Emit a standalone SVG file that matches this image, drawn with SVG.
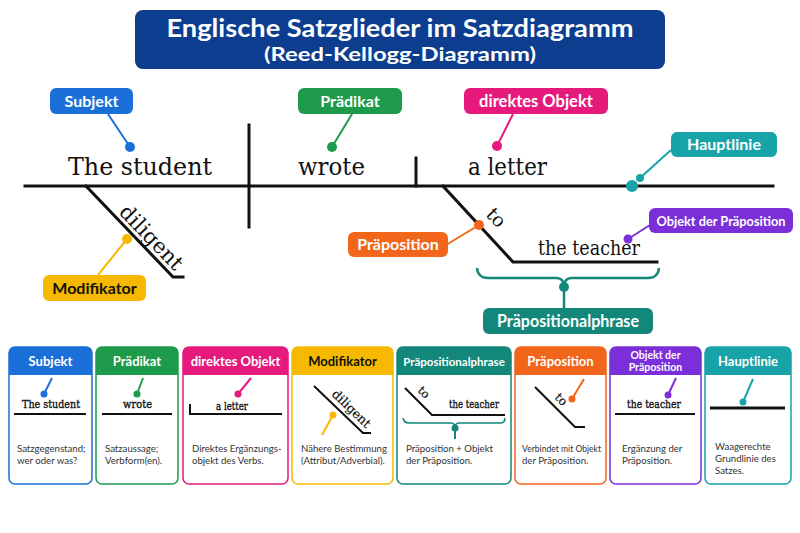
<svg xmlns="http://www.w3.org/2000/svg" width="800" height="533" viewBox="0 0 800 533">
<style>
.lbl{font-family:Lato,"Noto Sans",sans-serif;font-weight:700;fill:#fff;text-anchor:middle}
.w{font-family:"DejaVu Serif","Liberation Serif",serif;fill:#111}
.cw{font-family:"DejaVu Serif","Liberation Serif",serif;fill:#111;font-size:11.5px;stroke:#111;stroke-width:0.35}
.desc{font-family:Lato,"Noto Sans",sans-serif;font-size:9.6px;fill:#333}
.ln{stroke:#111;stroke-width:3;fill:none;stroke-linecap:square}
.cl{stroke:#111;stroke-width:2;fill:none}
.hd{font-family:Lato,"Noto Sans",sans-serif;font-weight:700;fill:#fff;text-anchor:middle;font-size:13px}
</style>
<rect width="800" height="533" fill="#fff"/>
<g id="title">
<rect x="135" y="10" width="530" height="59" rx="8" fill="#0c3d8e"/>
<text x="400" y="37" class="lbl" font-size="25" textLength="467" lengthAdjust="spacingAndGlyphs">Englische Satzglieder im Satzdiagramm</text>
<text x="400" y="61" class="lbl" font-size="18" textLength="272" lengthAdjust="spacingAndGlyphs">(Reed-Kellogg-Diagramm)</text>
</g>
<g id="connectors">
<path class="ln" d="M25 186H773"/>
<path class="ln" d="M249 125V227"/>
<path class="ln" d="M416 158V186"/>
<path class="ln" d="M86 186L173 277H183"/>
<path class="ln" d="M443 186L513 262H657"/>
<path d="M477 268Q478 278 488 278H556Q563 278 564 285Q565 278 572 278H648Q658 278 659 268" stroke="#12877a" stroke-width="2.5" fill="none"/>
<path d="M564 287V308" stroke="#12877a" stroke-width="2.5"/>
<circle cx="564" cy="287" r="5" fill="#12877a"/>
<path d="M108 114L130 147" stroke="#1b6fd8" stroke-width="2"/>
<circle cx="130" cy="147" r="5" fill="#1b6fd8"/>
<path d="M352 114L332 147" stroke="#1e9a4b" stroke-width="2"/>
<circle cx="332" cy="147" r="5" fill="#1e9a4b"/>
<path d="M513 114L497 146" stroke="#e6197c" stroke-width="2"/>
<circle cx="497" cy="146" r="5" fill="#e6197c"/>
<path d="M671 150L640 178" stroke="#17a3a8" stroke-width="2"/>
<circle cx="640" cy="178" r="4" fill="#17a3a8"/>
<circle cx="632" cy="186" r="6" fill="#17a3a8"/>
<path d="M650 225L628 239" stroke="#7b2fd8" stroke-width="2"/>
<circle cx="628" cy="239" r="4.5" fill="#7b2fd8"/>
<path d="M446 245L479 225" stroke="#f2661b" stroke-width="2"/>
<circle cx="479" cy="225" r="5" fill="#f2661b"/>
<path d="M98 275L127 239" stroke="#f6b900" stroke-width="2"/>
<circle cx="127" cy="239" r="5" fill="#f6b900"/>
</g>
<g id="words">
<text x="68" y="175" class="w" font-size="25" textLength="144" lengthAdjust="spacingAndGlyphs">The student</text>
<text x="298" y="175" class="w" font-size="25" textLength="67" lengthAdjust="spacingAndGlyphs">wrote</text>
<text x="468" y="175" class="w" font-size="25" textLength="79" lengthAdjust="spacingAndGlyphs">a letter</text>
<text x="538" y="255" class="w" font-size="20" textLength="102" lengthAdjust="spacingAndGlyphs">the teacher</text>
<text transform="translate(118 213) rotate(46)" class="w" font-size="21">diligent</text>
<text transform="translate(485 215) rotate(47)" class="w" font-size="19">to</text>
</g>
<g id="label-subjekt"><rect x="50" y="88" width="83" height="26" rx="6" fill="#1b6fd8"/><text x="91.5" y="107" class="lbl" font-size="16">Subjekt</text></g>
<g id="label-praedikat"><rect x="298" y="88" width="104" height="26" rx="6" fill="#1e9a4b"/><text x="350" y="107" class="lbl" font-size="16">Prädikat</text></g>
<g id="label-dobjekt"><rect x="464" y="88" width="144" height="26" rx="6" fill="#e6197c"/><text x="536" y="107" class="lbl" font-size="16.5">direktes Objekt</text></g>
<g id="label-hauptlinie"><rect x="671" y="132" width="106" height="25" rx="6" fill="#17a3a8"/><text x="724" y="150" class="lbl" font-size="16">Hauptlinie</text></g>
<g id="label-objpraep"><rect x="649" y="208" width="144" height="25" rx="6" fill="#7b2fd8"/><text x="721" y="225.5" class="lbl" font-size="14" textLength="129" lengthAdjust="spacingAndGlyphs">Objekt der Präposition</text></g>
<g id="label-praeposition"><rect x="348" y="232" width="100" height="25" rx="6" fill="#f2661b"/><text x="398" y="250" class="lbl" font-size="16">Präposition</text></g>
<g id="label-modifikator"><rect x="43" y="275" width="103" height="26" rx="6" fill="#f6b900"/><text x="94.5" y="294" class="lbl" font-size="16" style="fill:#111">Modifikator</text></g>
<g id="label-praepphrase"><rect x="483" y="308" width="170" height="26" rx="6" fill="#12877a"/><text x="568" y="327" class="lbl" font-size="16.5" textLength="142" lengthAdjust="spacingAndGlyphs">Präpositionalphrase</text></g>

<g id="card-subjekt">
<rect x="9" y="347" width="83" height="137" rx="6" fill="#fff" stroke="#1b6fd8" stroke-width="1.5"/>
<path d="M9 375V353Q9 347 15 347H86Q92 347 92 353V375Z" fill="#1b6fd8"/>
<text x="50.5" y="366" class="hd">Subjekt</text>
<path d="M52 378L44 394" stroke="#1b6fd8" stroke-width="2"/><circle cx="44" cy="394" r="3.5" fill="#1b6fd8"/>
<text x="22" y="408" class="cw" textLength="58" lengthAdjust="spacingAndGlyphs">The student</text>
<path class="cl" d="M14 414H86"/>
<text x="17" y="452" class="desc">Satzgegenstand;</text><text x="17" y="464" class="desc">wer oder was?</text>
</g>
<g id="card-praedikat">
<rect x="96" y="347" width="82" height="137" rx="6" fill="#fff" stroke="#1e9a4b" stroke-width="1.5"/>
<path d="M96 375V353Q96 347 102 347H172Q178 347 178 353V375Z" fill="#1e9a4b"/>
<text x="137" y="366" class="hd">Prädikat</text>
<path d="M143 378L137 394" stroke="#1e9a4b" stroke-width="2"/><circle cx="137" cy="394" r="3.5" fill="#1e9a4b"/>
<text x="123" y="408" class="cw" textLength="29" lengthAdjust="spacingAndGlyphs">wrote</text>
<path class="cl" d="M102 414H172"/>
<text x="105" y="452" class="desc">Satzaussage;</text><text x="105" y="464" class="desc">Verbform(en).</text>
</g>
<g id="card-dobjekt">
<rect x="183" y="347" width="105" height="137" rx="6" fill="#fff" stroke="#e6197c" stroke-width="1.5"/>
<path d="M183 375V353Q183 347 189 347H282Q288 347 288 353V375Z" fill="#e6197c"/>
<text x="235.5" y="366" class="hd">direktes Objekt</text>
<path d="M251 378L238 394" stroke="#e6197c" stroke-width="2"/><circle cx="238" cy="394" r="3.5" fill="#e6197c"/>
<text x="216" y="410" class="cw" textLength="32" lengthAdjust="spacingAndGlyphs">a letter</text>
<path class="cl" d="M190 404V414H282"/>
<text x="192" y="452" class="desc">Direktes Ergänzungs-</text><text x="192" y="464" class="desc">objekt des Verbs.</text>
</g>
<g id="card-modifikator">
<rect x="292" y="347" width="101" height="137" rx="6" fill="#fff" stroke="#f6b900" stroke-width="1.5"/>
<path d="M292 375V353Q292 347 298 347H387Q393 347 393 353V375Z" fill="#f6b900"/>
<text x="342.5" y="366" class="hd" style="fill:#111">Modifikator</text>
<path class="cl" d="M314 386L363 433H371"/>
<text transform="translate(331 395) rotate(44)" class="cw" style="font-size:12.5px;stroke-width:0.2">diligent</text>
<path d="M322 435L333 415" stroke="#f6b900" stroke-width="2"/><circle cx="333" cy="415" r="3.5" fill="#f6b900"/>
<text x="301" y="452" class="desc">Nähere Bestimmung</text><text x="301" y="464" class="desc">(Attribut/Adverbial).</text>
</g>
<g id="card-praepphrase">
<rect x="397" y="347" width="114" height="137" rx="6" fill="#fff" stroke="#12877a" stroke-width="1.5"/>
<path d="M397 375V353Q397 347 403 347H505Q511 347 511 353V375Z" fill="#12877a"/>
<text x="454" y="366" class="hd" style="font-size:11.5px">Präpositionalphrase</text>
<path class="cl" d="M405 388L432 415H505"/>
<text transform="translate(417 391) rotate(45)" class="cw" style="font-size:11.5px;stroke-width:0.2">to</text>
<text x="449" y="408" class="cw" textLength="50" lengthAdjust="spacingAndGlyphs">the teacher</text>
<path d="M403 418Q404 423 409 423H451Q454 423 455 426Q456 423 459 423H500Q505 423 505 418" stroke="#12877a" stroke-width="1.5" fill="none"/>
<path d="M455 428V439" stroke="#12877a" stroke-width="2"/><circle cx="455" cy="428" r="3.5" fill="#12877a"/>
<text x="406" y="452" class="desc">Präposition + Objekt</text><text x="406" y="464" class="desc">der Präposition.</text>
</g>
<g id="card-praeposition">
<rect x="515" y="347" width="91" height="137" rx="6" fill="#fff" stroke="#f2661b" stroke-width="1.5"/>
<path d="M515 375V353Q515 347 521 347H600Q606 347 606 353V375Z" fill="#f2661b"/>
<text x="560.5" y="366" class="hd">Präposition</text>
<path class="cl" d="M535 387L575 427H585"/>
<text transform="translate(554 398) rotate(45)" class="cw" style="font-size:12px;stroke-width:0.2">to</text>
<path d="M584 379L572 399" stroke="#f2661b" stroke-width="2"/><circle cx="572" cy="399" r="3.5" fill="#f2661b"/>
<text x="522" y="452" class="desc" textLength="79" lengthAdjust="spacingAndGlyphs">Verbindet mit Objekt</text><text x="522" y="464" class="desc">der Präposition.</text>
</g>
<g id="card-objpraep">
<rect x="610" y="347" width="91" height="137" rx="6" fill="#fff" stroke="#7b2fd8" stroke-width="1.5"/>
<path d="M610 375V353Q610 347 616 347H695Q701 347 701 353V375Z" fill="#7b2fd8"/>
<text x="655.5" y="359" class="hd" style="font-size:10.5px">Objekt der</text>
<text x="655.5" y="371" class="hd" style="font-size:10.5px">Präposition</text>
<path d="M676 378L668 395" stroke="#7b2fd8" stroke-width="2"/><circle cx="668" cy="395" r="3.5" fill="#7b2fd8"/>
<text x="627" y="408" class="cw" textLength="54" lengthAdjust="spacingAndGlyphs">the teacher</text>
<path class="cl" d="M615 414H695"/>
<text x="622" y="452" class="desc">Ergänzung der</text><text x="622" y="464" class="desc">Präposition.</text>
</g>
<g id="card-hauptlinie">
<rect x="705" y="347" width="86" height="137" rx="6" fill="#fff" stroke="#17a3a8" stroke-width="1.5"/>
<path d="M705 375V353Q705 347 711 347H785Q791 347 791 353V375Z" fill="#17a3a8"/>
<text x="748" y="366" class="hd">Hauptlinie</text>
<path d="M753 379L743 402" stroke="#17a3a8" stroke-width="2"/><circle cx="743" cy="402" r="3.5" fill="#17a3a8"/>
<path d="M710 408H785" stroke="#111" stroke-width="3"/>
<text x="715" y="450" class="desc">Waagerechte</text><text x="715" y="462" class="desc">Grundlinie des</text><text x="715" y="474" class="desc">Satzes.</text>
</g>
</svg>
